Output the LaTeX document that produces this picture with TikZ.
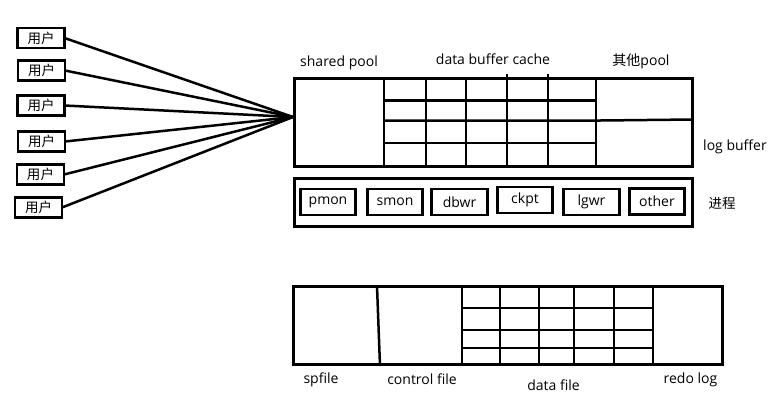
\documentclass[tikz,border=0pt]{standalone}
\usepackage{fontspec}
\setmainfont{Open Sans}
\newfontfamily\cjk{Noto Sans CJK SC}
\begin{document}
\begin{tikzpicture}[x=1pt,y=-1pt,
  every node/.style={inner sep=0pt,outer sep=0pt},
  userbox/.style={draw,line width=2.8pt,minimum width=47pt,minimum height=20pt,font=\cjk\fontsize{13.5}{15}\selectfont},
  procbox/.style={draw,line width=2.8pt,minimum width=55.5pt,minimum height=26pt,font=\fontsize{14}{16}\selectfont},
  lbl/.style={font=\fontsize{14}{16}\selectfont},
  frame/.style={draw,line width=3pt},
  gridline/.style={line width=2.5pt},
  link/.style={line width=2.5pt}]
\useasboundingbox[fill=white] (0,0) rectangle (773,408);

% users
\node[userbox] (u1) at (41,38) {用户};
\node[userbox] (u2) at (41.5,70.5) {用户};
\node[userbox] (u3) at (41,105.5) {用户};
\node[userbox] (u4) at (41.5,141.5) {用户};
\node[userbox] (u5) at (40.5,174.5) {用户};
\node[userbox] (u6) at (38.5,207.5) {用户};

% SGA
\node[frame,minimum width=398pt,minimum height=88pt] (sga) at (493,122) {};
\coordinate (hub) at (293,117);
\foreach \i in {1,...,6} \draw[link] (u\i.east) -- (hub);

\draw[gridline] (384,77) -- (384,167);
\foreach \x in {426,466} \draw[gridline] (\x,77) -- (\x,167);
\foreach \x in {507,548} \draw[gridline] (\x,74) -- (\x,167);
\draw[gridline] (596,77) -- (596,167);
\draw[gridline] (384,100.5) -- (596,100.5);
\draw[gridline] (384,120.5) -- (600,120.5) -- (693,119.5);
\draw[gridline] (384,143) -- (596,143);

\node[lbl] (lsp) at (339,63) {shared pool};
\node[lbl] (ldbc) at (493,59) {data buffer cache};
\node[lbl] (lother) at (641,61) {{\cjk 其他}pool};
\node[lbl] (llog) at (735,147) {log buffer};

% processes
\node[frame,minimum width=398pt,minimum height=48pt] (proc) at (493,202) {};
\node[procbox] (p1) at (328,202) {\raisebox{-1pt}{pmon}};
\node[procbox] (p2) at (395,202) {\raisebox{-1pt}{smon}};
\node[procbox] (p3) at (459.5,202) {\raisebox{-1pt}{dbwr}};
\node[procbox] (p4) at (525,200) {\raisebox{-1pt}{ckpt}};
\node[procbox] (p5) at (591.5,202) {\raisebox{-1pt}{lgwr}};
\node[procbox] (p6) at (657,201.5) {other};
\node[lbl,font=\cjk\fontsize{13.5}{15}\selectfont] (lproc) at (722,203) {进程};

% files
\node[frame,minimum width=429pt,minimum height=77.5pt] (files) at (507.5,325.7) {};
\draw[gridline] (377,286) -- (380,366);
\foreach \x in {462,500,539,574,614,653} \draw[gridline] (\x,286) -- (\x,366);
\foreach \y in {308,330,348} \draw[gridline] (462,\y) -- (653,\y);

\node[lbl] (lspf) at (321,380) {spfile};
\node[lbl] (lctl) at (422,379) {control file};
\node[lbl] (ldf) at (553.5,385) {data file};
\node[lbl] (lredo) at (690.5,380) {redo log};
\end{tikzpicture}
\end{document}
